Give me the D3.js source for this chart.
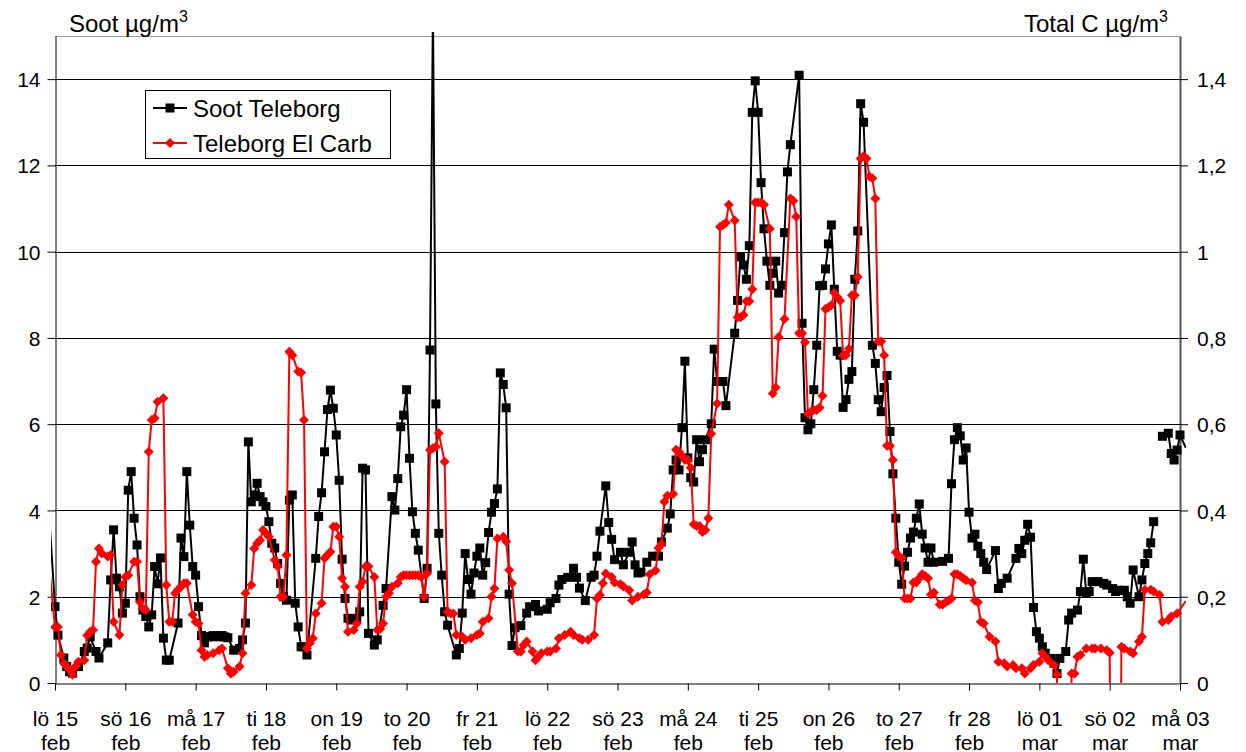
<!DOCTYPE html>
<html>
<head>
<meta charset="utf-8">
<script src="https://cdn.jsdelivr.net/npm/d3@7"></script>
<style>
  body { margin: 0; background: #fff; }
  svg { font-family: "Liberation Sans", Arial, sans-serif; }
</style>
</head>
<body>
<div id="chart"></div>
<script>
// day labels along the time axis (one tick every 24 hours)
var dayLabels = ["lö 15","sö 16","må 17","ti 18","on 19","to 20","fr 21","lö 22","sö 23",
                 "må 24","ti 25","on 26","to 27","fr 28","lö 01","sö 02","må 03"];
var monthLabels = ["feb","feb","feb","feb","feb","feb","feb","feb","feb",
                   "feb","feb","feb","feb","feb","mar","mar","mar"];

// soot, left axis (hours since lö 15 00:00)
var sootHours = [-2,0,1,3,4,5,6,8,10,11,12,14,15,18,19,20,21,22,23,24,
  25,26,27,28,29,30,31,32,33,34,35,36,37,38,39,42,43,44,45,46,47,48,
  49,50,51,52,53,54,55,56,57,58,59,61,63,64,65,66,67,68,69,70,71,72,
  73,74,75,76,77,78,79,80,81,82,83,84,85,86,89,90,91,92,93,94,95,96,
  97,98,99,100,101,103,104,105,106,107,109,110,112,113,115,116,117,118,119,120,
  121,122,123,124,126,127,128,129,130,131,132,133,134,137,138,139,140,141,142,143,144,
  145,146,147,148,149,150,151,152,153,154,155,156,157,159,161,162,164,165,168,
  169,171,172,173,175,177,178,179,181,183,184,185,186,188,189,190,191,193,194,196,197,198,199,200,
  202,204,206,207,209,210,211,212,213,214,215,216,217,218,219,220,221,222,224,225,226,228,229,
  232,233,234,235,236,237,238,239,240,241,242,243,244,245,246,247,248,249,250,251,254,255,256,
  257,258,259,260,261,262,263,264,265,266,267,268,269,270,271,272,273,274,275,276,279,280,
  281,282,283,284,285,286,287,288,289,290,291,292,293,294,295,296,297,298,299,300,303,305,306,
  307,308,309,310,311,312,313,314,315,316,317,318,321,322,323,325,328,329,330,331,332,333,334,
  335,336,337,338,340,341,342,343,345,346,347,349,350,351,352,353,354,356,358,359,361,362,363,
  365,366,367,368,370,371,372,373,374,375,376,378,380,381,382,383,384,386];
var sootValues = [3.9,1.77,1.11,0.58,0.38,0.26,0.23,0.38,0.73,0.81,1.07,0.73,0.58,0.93,2.39,3.55,2.43,2.23,1.62,1.85,
  4.47,4.9,3.82,3.2,2.0,1.69,1.54,1.3,1.58,2.7,2.3,2.9,1.04,0.53,0.53,1.39,3.36,2.93,4.9,3.66,2.7,2.5,
  1.77,1.1,0.93,1.07,1.07,1.1,1.1,1.07,1.1,1.07,1.05,0.76,0.8,1.0,1.39,5.59,4.2,4.36,4.63,4.32,4.2,4.09,
  3.74,3.24,3.13,2.77,2.31,2.0,1.92,4.24,4.36,1.85,1.3,0.84,0.84,0.65,2.89,3.86,4.41,5.36,6.34,6.79,6.37,5.75,
  4.7,2.87,1.96,1.5,1.46,1.5,1.65,4.98,4.94,1.15,0.88,1.0,1.8,2.19,4.32,4.01,4.74,5.94,6.21,6.8,
  5.21,3.97,3.47,3.08,1.96,2.66,7.72,15.6,6.47,3.47,2.5,1.65,1.34,0.65,0.8,1.62,3.0,2.4,2.06,2.55,2.94,
  3.13,2.5,2.79,3.49,3.96,4.16,4.5,7.19,6.92,6.38,2.06,0.87,1.28,1.33,1.62,1.77,1.82,1.67,1.71,
  1.86,1.96,2.27,2.4,2.45,2.66,2.45,2.2,1.91,2.45,2.5,2.94,3.52,4.57,3.72,3.33,2.86,3.03,2.74,3.03,3.27,2.74,2.55,2.57,
  2.8,2.94,2.94,3.27,3.59,3.92,4.94,5.17,4.94,5.92,7.46,5.22,4.76,4.66,5.64,5.13,5.41,5.64,6.01,7.74,6.99,6.99,6.43,
  8.11,8.87,9.88,9.69,9.36,10.14,13.23,13.96,13.23,11.6,10.53,9.78,9.22,9.5,9.78,9.04,9.22,10.44,11.85,12.48,14.09,8.34,6.15,
  5.87,6.01,6.8,7.83,9.21,9.22,9.6,10.18,10.62,9.13,7.69,7.6,6.39,6.57,7.04,7.22,9.36,10.48,13.43,13.0,7.83,7.41,
  6.57,6.29,6.85,7.13,5.83,4.85,3.82,2.8,2.29,2.71,3.03,3.36,3.5,3.82,4.15,3.45,3.13,2.8,3.13,2.8,2.82,2.89,4.62,
  5.64,5.92,5.73,5.17,5.45,3.96,3.36,3.45,3.17,3.0,2.8,2.63,3.07,2.19,2.31,2.43,2.89,3.12,3.0,3.31,3.68,3.38,1.75,
  1.19,1.04,0.84,0.69,0.57,0.46,0.22,0.57,0.73,1.46,1.62,1.69,2.12,2.87,2.08,2.12,2.35,2.35,2.31,2.27,2.19,2.12,2.15,
  2.15,2.0,1.85,2.62,2.0,2.39,2.77,3.0,3.25,3.74,null,5.72,5.79,5.32,5.17,5.4,5.75,5.45];

// elemental carbon, right axis
var carbHours = [-2,0,1,2,3,4,5,6,7,8,10,11,12,13,14,15,16,18,19,20,22,23,24,
  25,27,28,29,30,31,32,33,34,35,37,38,39,40,41,42,43,44,45,47,48,
  49,50,51,52,54,56,57,59,60,61,63,64,65,67,68,69,70,71,72,
  73,75,76,77,78,79,80,81,83,84,85,86,87,88,89,91,92,93,94,95,96,
  97,98,99,100,102,103,104,105,106,107,109,110,111,112,113,114,115,117,118,119,120,
  121,122,123,124,125,126,127,128,129,130,131,133,134,135,136,137,139,140,142,144,
  145,146,148,149,150,151,153,154,155,156,158,159,160,161,163,164,165,166,168,
  169,171,172,174,176,177,179,180,182,184,185,186,187,188,190,191,193,194,196,197,199,
  201,202,203,205,206,207,208,209,211,212,213,214,215,216,217,218,219,220,221,222,223,224,226,
  227,228,229,230,232,233,234,235,236,237,238,239,240,241,242,244,245,246,247,249,251,252,253,254,255,256,
  257,258,259,260,261,262,263,264,265,266,267,268,269,270,271,272,273,274,275,276,277,278,279,280,
  281,282,283,284,285,286,287,288,289,290,291,292,293,294,295,296,297,298,299,300,302,303,304,305,306,
  307,308,309,310,311,313,314,315,316,317,319,321,322,324,325,327,328,330,331,333,334,336,
  337,338,339,341,342,343,346,347,348,349,350,352,354,355,357,359,360,361,363,
  364,365,367,368,370,371,372,374,375,377,378,380,381,383,386];
var carbValues = [0.27,0.13,0.13,0.065,0.046,0.038,0.03,0.019,0.038,0.049,0.053,0.11,0.119,0.123,0.281,0.312,0.3,0.293,0.297,0.142,0.111,0.227,0.246,
  0.25,0.281,0.281,0.188,0.173,0.169,0.536,0.61,0.614,0.652,0.66,0.227,0.142,0.142,0.208,0.216,0.223,0.231,0.231,0.158,0.142,
  0.138,0.076,0.061,0.065,0.069,0.076,0.08,0.034,0.022,0.026,0.038,0.069,0.208,0.227,0.312,0.324,0.331,0.355,0.347,
  0.339,0.285,0.27,0.2,0.2,0.297,0.768,0.76,0.722,0.72,0.61,0.08,0.092,0.104,0.161,0.185,0.289,0.297,0.304,0.362,0.362,
  0.339,0.243,0.223,0.119,0.123,0.138,0.223,0.235,0.27,0.27,0.246,0.123,0.125,0.138,0.2,0.208,0.223,0.231,0.246,0.25,0.25,
  0.25,0.25,0.25,0.25,0.246,0.2,0.254,0.54,0.544,0.548,0.579,0.513,0.165,0.161,0.161,0.111,0.107,0.1,0.104,0.111,
  0.115,0.142,0.15,0.2,0.219,0.335,0.339,0.328,0.262,0.231,0.073,0.073,0.088,0.096,0.073,0.053,0.061,0.069,0.073,
  0.073,0.08,0.104,0.111,0.119,0.111,0.104,0.1,0.1,0.111,0.196,0.204,0.231,0.254,0.246,0.233,0.229,0.224,0.215,0.191,0.2,
  0.205,0.21,0.252,0.261,0.313,0.322,0.42,0.434,0.438,0.541,0.536,0.527,0.517,0.517,0.499,0.368,0.364,0.364,0.35,0.355,0.382,0.578,0.648,
  1.058,1.062,1.067,1.109,1.072,0.848,0.848,0.853,0.885,0.885,0.913,1.114,1.114,1.114,1.109,1.053,0.671,0.685,0.802,0.844,1.123,1.118,1.081,0.811,0.811,0.79,
  0.625,0.629,0.633,0.633,0.639,0.666,0.867,0.871,0.876,0.904,0.895,0.886,0.76,0.76,0.775,0.899,0.899,0.941,1.216,1.221,1.216,1.174,1.17,1.123,
  0.792,0.792,0.76,0.55,0.55,0.517,0.303,0.294,0.29,0.196,0.196,0.196,0.233,0.233,0.243,0.252,0.248,0.243,0.205,0.21,0.182,0.182,0.187,0.191,0.196,
  0.252,0.252,0.248,0.243,0.238,0.233,0.191,0.187,0.142,0.138,0.107,0.096,0.049,0.046,0.038,0.042,0.034,0.034,0.022,0.034,0.042,0.049,
  0.069,0.061,0.053,0.042,0.019,-1,-1,0.022,0.022,0.061,0.065,0.08,0.08,0.08,0.08,0.076,0.07,-1,-1,
  0.084,0.08,0.073,0.069,0.096,0.107,0.216,0.216,0.212,0.204,0.142,0.146,0.154,0.161,0.19];

var sootTicks = [0,2,4,6,8,10,12,14];
var carbTicks = [0,0.2,0.4,0.6,0.8,1.0,1.2,1.4];

var soot = sootHours.map(function(h, i) { return {h: h, v: sootValues[i]}; });
var carb = carbHours.map(function(h, i) { return {h: h, v: carbValues[i]}; });

var width = 1246, height = 752;
var plot = {left: 55, right: 1180, top: 36, bottom: 683};

var svg = d3.select("#chart")
  .append("svg")
    .attr("width", width)
    .attr("height", height);

var x = d3.scaleLinear().domain([0, 384]).range([plot.left, plot.right]);
var yL = d3.scaleLinear().domain([0, 15]).range([plot.bottom, plot.top]);
var yR = d3.scaleLinear().domain([0, 1.5]).range([plot.bottom, plot.top]);

// grid lines
svg.append("g")
  .selectAll("line")
  .data(sootTicks.filter(function(d) { return d > 0; }))
  .enter()
  .append("line")
    .attr("x1", plot.left)
    .attr("x2", plot.right)
    .attr("y1", function(d) { return Math.round(yL(d)) + 0.5; })
    .attr("y2", function(d) { return Math.round(yL(d)) + 0.5; })
    .style("stroke", "#000")
    .style("stroke-width", 1);

// top frame of the plot area
svg.append("line")
  .attr("x1", plot.left).attr("x2", plot.right)
  .attr("y1", plot.top + 0.5).attr("y2", plot.top + 0.5)
  .style("stroke", "#9a9a9a").style("stroke-width", 1);

// left axis
var axL = svg.append("g")
  .attr("transform", "translate(" + (plot.left + 0.5) + ",0)")
  .call(d3.axisLeft(yL).tickValues(sootTicks).tickSize(8).tickSizeOuter(0).tickPadding(7)
        .tickFormat(d3.format("d")));

// right axis, decimal comma
var commaFmt = function(d) {
  return d3.format(".1f")(d).replace(/\.0$/, "").replace(".", ",");
};
var axR = svg.append("g")
  .attr("transform", "translate(" + (plot.right) + ",0)")
  .call(d3.axisRight(yR).tickValues(carbTicks).tickSize(8).tickSizeOuter(0).tickPadding(9)
        .tickFormat(commaFmt));

// bottom axis, day ticks
var dayHours = dayLabels.map(function(d, i) { return i * 24; });
var axB = svg.append("g")
  .attr("transform", "translate(0," + (plot.bottom + 0.5) + ")")
  .call(d3.axisBottom(x).tickValues(dayHours).tickSize(7).tickSizeOuter(0).tickFormat(""));

[axL, axR, axB].forEach(function(ax) {
  ax.selectAll(".domain").style("stroke", "#000").style("stroke-width", 1);
  ax.selectAll(".tick line").style("stroke", "#000");
  ax.selectAll("text")
    .style("font-family", "'Liberation Sans', Arial, sans-serif")
    .style("font-size", "21px")
    .style("fill", "#000");
});
axR.select(".domain").style("stroke", "#555").style("stroke-width", 2);
axL.selectAll(".tick text").attr("dy", "0.36em");
axR.selectAll(".tick text").attr("dy", "0.36em");

// two-line day / month labels
axB.selectAll(".tick").each(function(d, i) {
  var t = d3.select(this).append("text")
    .attr("text-anchor", "middle")
    .style("font-family", "'Liberation Sans', Arial, sans-serif")
    .style("font-size", "21px")
    .style("fill", "#000");
  t.append("tspan").attr("x", 0).attr("y", 42).text(dayLabels[i]);
  t.append("tspan").attr("x", 0).attr("y", 66).text(monthLabels[i]);
});

// axis titles
var title = svg.append("text")
  .attr("x", 69).attr("y", 32)
  .style("font-size", "24px");
title.append("tspan").text("Soot µg/m");
title.append("tspan").attr("dy", -10).style("font-size", "16px").text("3");

var titleR = svg.append("text")
  .attr("x", 1168).attr("y", 32)
  .attr("text-anchor", "end")
  .style("font-size", "24px");
titleR.append("tspan").text("Total C µg/m");
titleR.append("tspan").attr("dy", -10).style("font-size", "16px").text("3");

// clip for the series
svg.append("clipPath").attr("id", "clip")
  .append("rect")
    .attr("x", 51).attr("y", 32)
    .attr("width", 1186 - 51).attr("height", plot.bottom - 32);

var series = svg.append("g").attr("clip-path", "url(#clip)");

var lineL = d3.line()
  .defined(function(d) { return d.v !== null; })
  .x(function(d) { return x(d.h); })
  .y(function(d) { return yL(d.v); });
var lineR = d3.line()
  .defined(function(d) { return d.v !== null; })
  .x(function(d) { return x(d.h); })
  .y(function(d) { return yR(d.v); });

var diamond = "M0,-5L5,0L0,5L-5,0Z";

// soot series, black squares
series.append("path")
  .datum(soot)
  .attr("d", lineL)
  .style("fill", "none")
  .style("stroke", "#000")
  .style("stroke-width", 2);
series.selectAll(".sq")
  .data(soot.filter(function(d) { return d.v !== null && d.h >= 0 && d.h <= 384; }))
  .enter()
  .append("rect")
    .attr("class", "sq")
    .attr("x", function(d) { return x(d.h) - 4.5; })
    .attr("y", function(d) { return yL(d.v) - 4.5; })
    .attr("width", 9)
    .attr("height", 9)
    .style("fill", "#000");

// elemental carbon series, red diamonds
series.append("path")
  .datum(carb)
  .attr("d", lineR)
  .style("fill", "none")
  .style("stroke", "#ff0000")
  .style("stroke-width", 2);
series.selectAll(".dm")
  .data(carb.filter(function(d) { return d.h >= 0 && d.h <= 384; }))
  .enter()
  .append("path")
    .attr("class", "dm")
    .attr("d", diamond)
    .attr("transform", function(d) { return "translate(" + x(d.h) + "," + yR(d.v) + ")"; })
    .style("fill", "#ff0000");

// legend
var legend = svg.append("g");
legend.append("rect")
  .attr("x", 145.5).attr("y", 90.5)
  .attr("width", 245).attr("height", 68)
  .style("fill", "#fff")
  .style("stroke", "#000")
  .style("stroke-width", 1);
var items = [
  {name: "Soot Teleborg", color: "#000", y: 108},
  {name: "Teleborg El Carb", color: "#ff0000", y: 143}
];
items.forEach(function(it, i) {
  legend.append("line")
    .attr("x1", 153).attr("x2", 187)
    .attr("y1", it.y).attr("y2", it.y)
    .style("stroke", it.color).style("stroke-width", 2);
  if (i === 0) {
    legend.append("rect")
      .attr("x", 170 - 4.5).attr("y", it.y - 4.5)
      .attr("width", 9).attr("height", 9)
      .style("fill", it.color);
  } else {
    legend.append("path")
      .attr("d", diamond)
      .attr("transform", "translate(170," + it.y + ")")
      .style("fill", it.color);
  }
  legend.append("text")
    .attr("x", 193).attr("y", it.y + 9)
    .style("font-size", "24px")
    .text(it.name);
});
</script>
</body>
</html>
